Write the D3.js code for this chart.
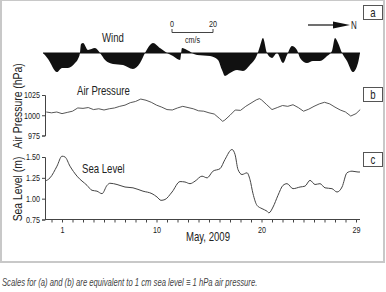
<!DOCTYPE html>
<html>
<head>
<meta charset="utf-8">
<script src="https://cdn.jsdelivr.net/npm/d3@7"></script>
<style>
  body { margin: 0; background: #fff; }
  svg text { font-family: "Liberation Sans", Arial, sans-serif; fill: #222; }
</style>
</head>
<body>
<div id="chart"></div>
<script>
// wind, north component (cm/s)
const windDays = [-0.81, -0.33, 0.52, 1.0, 1.57, 2.24, 2.52, 2.71, 2.81, 3.0, 3.48, 4.14, 4.62, 5.1, 5.86, 6.81, 7.76, 8.43, 8.9,
  9.67, 10.33, 11.0, 11.57, 12.24, 12.43, 12.9, 13.86, 15.1, 15.86, 16.24, 16.52, 17.0, 17.67, 18.24, 18.9, 19.57, 19.86,
  20.14, 20.52, 21.0, 21.48, 22.05, 22.43, 22.9, 23.38, 23.67, 24.33, 24.9, 25.57, 26.24, 26.71, 27.0, 27.29, 27.67,
  28.14, 28.71, 29.19, 29.38];
const windNorth = [0, -2.9, -9.3, -7.3, -7.3, -4.9, -2.9, 0, 4.4, 4.9, 1.5, 2.4, 0, -3.4, -5.4, -5.9, -7.8, -4.9, 0,
  4.9, 2.4, 0, -1.5, -3.4, 2.4, 1.5, -1.0, -1.5, -3.4, -8.3, -11.2, -9.8, -8.3, -8.8, -5.9, -1.0, 3.4,
  7.3, 0, -2.4, 0, -4.9, -1.0, 3.4, 1.5, -2.4, -4.9, -3.9, -3.9, -1.5, 1.0, 7.3, 4.9, 0,
  -3.9, -9.3, -4.9, 0];

// air pressure (hPa)
const pressDays = [-0.5, 0, 0.5, 1, 1.5, 2, 2.5, 3, 3.5, 4, 4.5, 5, 5.5, 6, 6.5, 7, 7.5, 8, 8.5, 9, 9.5, 10, 10.5,
  11, 11.5, 12, 12.5, 13, 13.5, 14, 14.5, 15, 15.5, 16, 16.3, 16.5, 17, 17.5, 18, 18.5, 19, 19.5, 19.8, 20,
  20.5, 21, 21.5, 22, 22.5, 23, 23.5, 24, 24.5, 25, 25.5, 26, 26.5, 27, 27.5, 28, 28.5, 29, 29.4];
const pressure = [1004, 1003, 1004, 1002, 1003.5, 1005, 1009, 1008.5, 1009.5, 1007, 1008, 1006.5, 1008, 1009, 1011,
  1012.5, 1015.5, 1017, 1020, 1018.5, 1016, 1012.5, 1010, 1007, 1006.5, 1009, 1011, 1009.5, 1008, 1005.5, 1005,
  1003, 1001.5, 996, 992.5, 994, 1000, 1006.5, 1006, 1011, 1015, 1019, 1020.5, 1019, 1013, 1007, 1009.5, 1012,
  1011, 1013, 1009.5, 1005, 1007.5, 1011, 1014, 1016, 1014, 1010, 1006.5, 1004, 999, 1002, 1007];

// sea level (m)
const seaDays = [-0.62, -0.14, 0.52, 1.0, 1.29, 1.76, 2.43, 3.38, 3.86, 4.33, 4.81, 5.29, 5.57, 6.24, 7.0, 7.76, 8.71,
  9.57, 10.05, 10.43, 10.81, 11.48, 12.24, 12.71, 13.19, 13.67, 14.33, 14.81, 15.38, 16.05, 16.52, 17.19, 17.48,
  17.76, 18.14, 18.62, 18.9, 19.19, 19.57, 20.05, 20.52, 20.71, 21.1, 21.57, 22.05, 22.43, 23.0, 23.67, 24.14,
  24.62, 25.1, 25.57, 26.05, 26.71, 27.19, 27.67, 28.14, 28.62, 29.19, 29.38];
const seaLevel = [1.21, 1.25, 1.39, 1.51, 1.50, 1.39, 1.27, 1.16, 1.10, 1.09, 1.06, 1.16, 1.185, 1.17, 1.14, 1.13, 1.09,
  1.06, 1.02, 0.98, 0.99, 1.08, 1.205, 1.20, 1.18, 1.21, 1.27, 1.25, 1.33, 1.36, 1.47, 1.59, 1.53,
  1.35, 1.29, 1.31, 1.23, 1.06, 0.92, 0.88, 0.85, 0.83, 0.90, 1.04, 1.16, 1.18, 1.12, 1.14, 1.15,
  1.22, 1.17, 1.18, 1.13, 1.12, 1.08, 1.14, 1.31, 1.33, 1.32, 1.32];

const pressTicks = [975, 1000, 1025];
const seaTicks = [0.75, 1.00, 1.25, 1.50];
const dayTicks = d3.range(0, 30);
const dayLabels = [1, 10, 20, 29];

const W = 386, H = 292;
const NARROW = 0.8; // squeeze Liberation Sans into a narrow face
const svg = d3.select('#chart').append('svg')
  .attr('width', W).attr('height', H);

function label(x, y, str, size, anchor, rot, sx) {
  const s = sx || NARROW;
  const tr = rot ? `translate(${x},${y}) rotate(${rot}) scale(${s},1)` : `translate(${x},${y}) scale(${s},1)`;
  return svg.append('text').attr('transform', tr)
    .attr('font-size', size).attr('text-anchor', anchor || 'start').text(str);
}

function narrowTicks(g) {
  g.selectAll('text').each(function () {
    const t = d3.select(this);
    const tx = +t.attr('x') || 0, ty = +t.attr('y') || 0;
    t.attr('transform', `translate(${tx},${ty}) scale(${NARROW},1)`).attr('x', 0).attr('y', 0);
  });
}

// outer frame
svg.append('rect')
  .attr('x', 1).attr('y', 0).attr('width', 383).attr('height', 262)
  .attr('fill', 'none').attr('stroke', '#c8c8c8').attr('stroke-width', 2);

const x = d3.scaleLinear().domain([-0.62, 29.38]).range([45, 360]);

// ---- (a) wind
const yWind = d3.scaleLinear().domain([-20, 20]).range([94, 12]);
const windPts = windDays.map((d, i) => [d, windNorth[i]]);

svg.append('path')
  .datum(windPts)
  .attr('fill', '#111')
  .attr('d', d3.area().x(d => x(d[0])).y0(yWind(0)).y1(d => yWind(d[1])).curve(d3.curveMonotoneX));

svg.append('line')
  .attr('x1', x(-0.81)).attr('x2', x(29.38))
  .attr('y1', yWind(0)).attr('y2', yWind(0))
  .attr('stroke', '#111').attr('stroke-width', 1);

label(102, 42, 'Wind', 12);

// speed scale bar 0..20 cm/s
const sb0 = 172, sbLen = yWind(0) - yWind(20);
svg.append('path')
  .attr('d', `M${sb0},29V32.5H${sb0 + sbLen}V29`)
  .attr('fill', 'none').attr('stroke', '#444').attr('stroke-width', 1);
label(sb0, 27, '0', 9, 'middle');
label(sb0 + sbLen, 27, '20', 9, 'middle');
label(sb0 + sbLen / 2, 42.5, 'cm/s', 9, 'middle');

// north arrow
svg.append('line').attr('x1', 308).attr('x2', 336).attr('y1', 25).attr('y2', 25)
  .attr('stroke', '#111').attr('stroke-width', 1.2);
svg.append('path').attr('d', 'M333,21.5L350,25L333,28.5Z').attr('fill', '#111');
label(351, 29, 'N', 10);

// ---- (b) air pressure
const yPress = d3.scaleLinear().domain([975, 1025]).range([135.5, 95]);
svg.append('g')
  .attr('transform', 'translate(45,0)')
  .call(d3.axisLeft(yPress).tickValues(pressTicks).tickFormat(d3.format('d')).tickSize(3).tickPadding(2))
  .call(g => g.selectAll('text').attr('font-size', 9))
  .call(g => g.selectAll('path,line').attr('stroke', '#444'))
  .call(narrowTicks);

svg.append('path')
  .datum(pressDays.map((d, i) => [d, pressure[i]]))
  .attr('fill', 'none').attr('stroke', '#444').attr('stroke-width', 0.9)
  .attr('d', d3.line().x(d => x(d[0])).y(d => yPress(d[1])));

label(77, 95, 'Air Pressure', 12);
label(22, 106, 'Air Pressure (hPa)', 13, 'middle', -90);

// ---- (c) sea level
const ySea = d3.scaleLinear().domain([0.75, 1.5]).range([219.5, 157]);
svg.append('g')
  .attr('transform', 'translate(45,0)')
  .call(d3.axisLeft(ySea).tickValues(seaTicks).tickFormat(d3.format('.2f')).tickSize(3).tickPadding(2))
  .call(g => g.selectAll('text').attr('font-size', 9))
  .call(g => g.selectAll('path,line').attr('stroke', '#444'))
  .call(narrowTicks);

svg.append('g')
  .attr('transform', 'translate(0,219.5)')
  .call(d3.axisBottom(x).tickValues(dayTicks).tickSize(3).tickPadding(4)
    .tickFormat(d => dayLabels.includes(d) ? d : ''))
  .call(g => g.select('.domain').attr('d', `M45,0H360`))
  .call(g => g.selectAll('text').attr('font-size', 9))
  .call(g => g.selectAll('path,line').attr('stroke', '#444'))
  .call(narrowTicks);

svg.append('path')
  .datum(seaDays.map((d, i) => [d, seaLevel[i]]))
  .attr('fill', 'none').attr('stroke', '#444').attr('stroke-width', 1)
  .attr('d', d3.line().x(d => x(d[0])).y(d => ySea(d[1])).curve(d3.curveMonotoneX));

label(82, 173, 'Sea Level', 12);
label(22, 189, 'Sea Level (m)', 13, 'middle', -90);

label(208, 241, 'May, 2009', 12, 'middle');

// panel labels
[['a', 5], ['b', 87], ['c', 152]].forEach(([t, y0]) => {
  svg.append('rect').attr('x', 363.5).attr('y', y0 + 0.5).attr('width', 19).attr('height', 14)
    .attr('fill', '#fff').attr('stroke', '#555').attr('stroke-width', 1);
  label(373, y0 + 11.5, t, 12, 'middle');
});

// caption
label(2, 285.5, 'Scales for (a) and (b) are equivalent to 1 cm sea level \u2261 1 hPa air pressure.', 10.5, 'start', 0, 0.73)
  .attr('font-style', 'italic').style('fill', '#444');
</script>
</body>
</html>
